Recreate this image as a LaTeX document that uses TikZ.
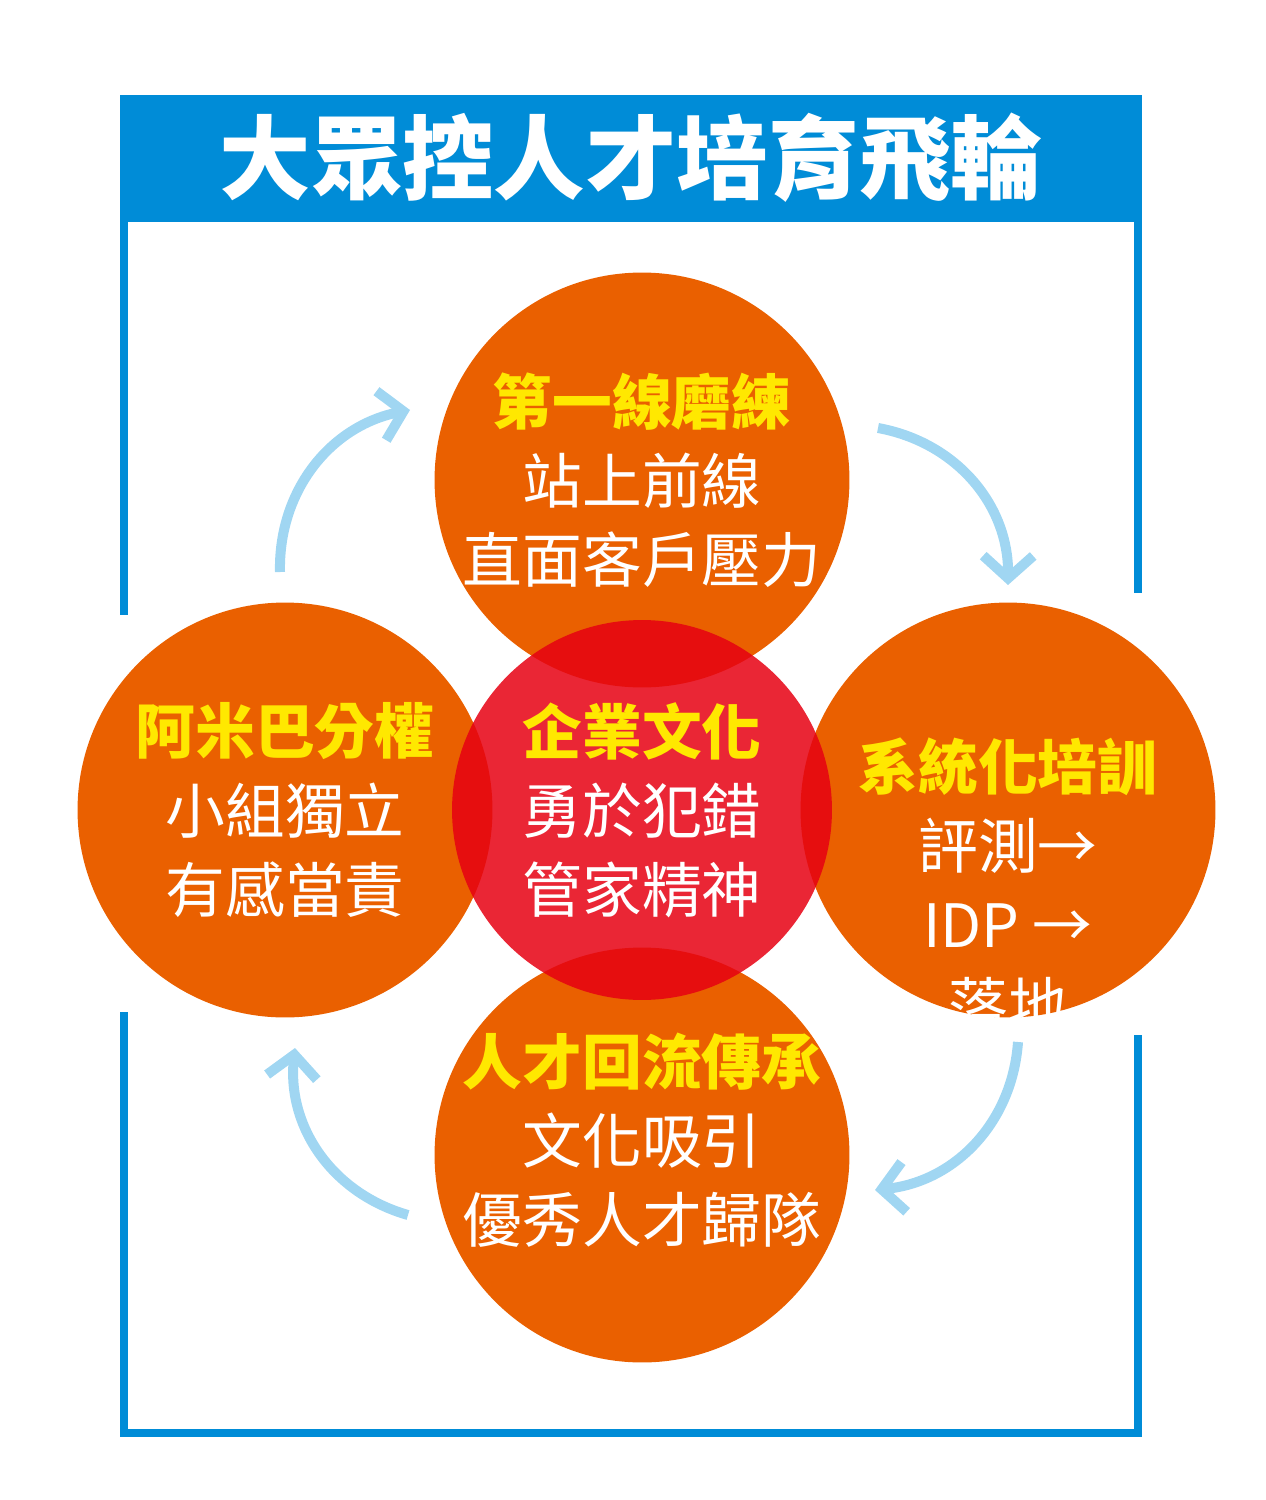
\documentclass[tikz,border=0pt]{standalone}
\usepackage{fontspec}
\setmainfont{Noto Sans CJK TC}
\usetikzlibrary{arrows.meta,positioning}
\definecolor{framblue}{RGB}{0,140,215}
\definecolor{wheelorange}{RGB}{234,96,0}
\definecolor{corered}{RGB}{230,0,18}
\definecolor{headyellow}{RGB}{255,232,0}
\definecolor{loopblue}{RGB}{160,214,242}

\begin{document}
\begin{tikzpicture}[x=0.02cm, y=-0.02cm,
	spoke/.style = {circle, fill=wheelorange, minimum size=8.3cm, inner sep=0pt},
	core/.style  = {circle, fill=corered, fill opacity=0.85, minimum size=7.6cm, inner sep=0pt},
	label/.style = {text=white, align=center, font=\fontsize{34}{45}\selectfont},
	loop/.style  = {loopblue, line width=0.2cm, -{Straight Barb[length=0.45cm, width=1.0cm, line width=0.2cm]}},
	>=latex]

	\useasboundingbox (0,0) rectangle (1265,1500);

	% frame and title bar
	\fill[framblue] (120,95) rectangle (1142,222);
	\node[text=white, font=\fontsize{52}{60}\bfseries\selectfont] (title) at (631,158) {大眾控人才培育飛輪};
	\draw[framblue, line width=0.16cm] (124,220) -- (124,615);
	\draw[framblue, line width=0.16cm] (124,1012) -- (124,1433) -- (1138,1433) -- (1138,1035);
	\draw[framblue, line width=0.16cm] (1138,220) -- (1138,593);

	% the four outer circles and the core
	\node[spoke] (top) at (642,480) {};
	\node[spoke] (left) at (285,810) {};
	\node[spoke] (right) at (1008,810) {};
	\node[spoke] (bottom) at (642,1155) {};
	\node[core] (center) at (642,810) {};

	% texts
	\node[label] (ttop) at (top.center) {{\bfseries\color{headyellow}第一線磨練}\\站上前線\\直面客戶壓力};
	\node[label] (tleft) at (left.center) {{\bfseries\color{headyellow}阿米巴分權}\\小組獨立\\有感當責};
	\node[label] (tcenter) at (center.center) {{\bfseries\color{headyellow}企業文化}\\勇於犯錯\\管家精神};
	\node[label] (tright) at ([yshift=-1.5cm]right.center) {{\bfseries\color{headyellow}系統化培訓}\\評測→\\IDP →\\落地};
	\node[label] (tbottom) at ([yshift=0.3cm]bottom.center) {{\bfseries\color{headyellow}人才回流傳承}\\文化吸引\\優秀人才歸隊};

	% loop arrows
	\coordinate (a1) at (280,572);  \coordinate (a2) at (410,410);
	\coordinate (b1) at (878,428);  \coordinate (b2) at (1008,585);
	\coordinate (c1) at (1018,1042); \coordinate (c2) at (875,1190);
	\coordinate (d1) at (408,1215); \coordinate (d2) at (295,1048);
	\draw[loop] (a1) to[bend left=40] (a2);
	\draw[loop] (b1) to[bend left=40] (b2);
	\draw[loop] (c1) to[bend left=40] (c2);
	\draw[loop] (d1) to[bend left=40] (d2);

\end{tikzpicture}
\end{document}
